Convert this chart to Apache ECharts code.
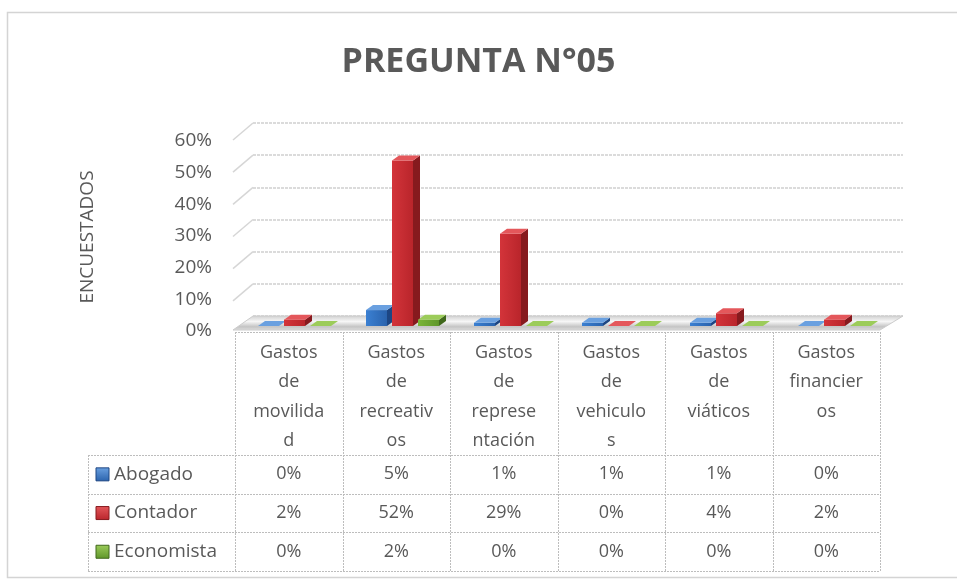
<!DOCTYPE html>
<html>
<head>
<meta charset="utf-8">
<script src="https://cdn.jsdelivr.net/npm/echarts@6/dist/echarts.min.js"></script>
<style>html,body{margin:0;padding:0;background:#fff;}#c{width:957px;height:581px;}</style>
</head>
<body>
<div id="c"></div>
<script>
// ---- data ----
var categories = ['Gastos de movilidad', 'Gastos de recreativos', 'Gastos de representación', 'Gastos de vehiculos', 'Gastos de viáticos', 'Gastos financieros'];
var categoryLabels = ['Gastos\nde\nmovilida\nd', 'Gastos\nde\nrecreativ\nos', 'Gastos\nde\nreprese\nntación', 'Gastos\nde\nvehiculo\ns', 'Gastos\nde\nviáticos', 'Gastos\nfinancier\nos'];
var seriesNames = ['Abogado', 'Contador', 'Economista'];
var abogado = [0, 5, 1, 1, 1, 0];
var contador = [2, 52, 29, 0, 4, 2];
var economista = [0, 2, 0, 0, 0, 0];
var yTicks = [0, 10, 20, 30, 40, 50, 60];

// ---- styling ----
var FONT = '"Open Sans", "Noto Sans", sans-serif';
var TXT = '#595959';
var palettes = [
  {front: ['#3b80d2', '#2a63ad'], side: '#1d4683', top: '#6aa0e0'},
  {front: ['#d3343a', '#b9252b'], side: '#861a1e', top: '#e4575b'},
  {front: ['#7ab537', '#5f962a'], side: '#40681c', top: '#9ccc5a'}
];
var allSeries = [abogado, contador, economista];

var chart = echarts.init(document.getElementById('c'), null, {renderer: 'canvas'});

var SLOT = 26, W = 21, DX = 7, DY = -5;
function barRenderer(sIdx) {
  var pal = palettes[sIdx];
  return function (params, api) {
    var ci = api.value(0), v = api.value(1);
    var b = api.coord([ci, 0]), t = api.coord([ci, v]);
    var cx = b[0] + (sIdx - 1) * SLOT;
    var x0 = cx - 14, x1 = x0 + W;
    var yb = b[1], yt = t[1];
    return {
      type: 'group',
      children: [
        {type: 'polygon', shape: {points: [[x1, yt], [x1 + DX, yt + DY], [x1 + DX, yb + DY], [x1, yb]]}, style: {fill: pal.side}},
        {type: 'rect', shape: {x: x0, y: yt, width: W, height: Math.max(yb - yt, 0)},
          style: {fill: new echarts.graphic.LinearGradient(0, 0, 1, 0, [{offset: 0, color: pal.front[0]}, {offset: 1, color: pal.front[1]}])}},
        {type: 'polygon', shape: {points: [[x0, yt], [x0 + DX, yt + DY], [x1 + DX, yt + DY], [x1, yt]]}, style: {fill: pal.top}}
      ]
    };
  };
}

var series = [];
// floor
series.push({
  type: 'custom', xAxisIndex: 0, yAxisIndex: 0, z: 1, silent: true,
  data: [[0, 0]],
  renderItem: function (params, api) {
    var bl = api.coord([0, 0]), br = api.coord([1, 0]);
    return {
      type: 'polygon',
      shape: {points: [bl, br, [br[0] - 23, br[1] + 14], [bl[0] - 20, bl[1] + 14]]},
      style: {
        fill: new echarts.graphic.LinearGradient(0, 0, 0, 1, [
          {offset: 0, color: '#cfcfcf'}, {offset: 0.4, color: '#f6f6f6'}, {offset: 0.75, color: '#c4c4c4'}, {offset: 1, color: '#e0e0e0'}]),
        stroke: '#cccccc', lineWidth: 1
      }
    };
  }
});
// diagonal side lines of back wall
series.push({
  type: 'custom', xAxisIndex: 0, yAxisIndex: 0, z: 2, silent: true,
  data: yTicks.slice(1).map(function (v) { return [0, v]; }),
  renderItem: function (params, api) {
    var p = api.coord([0, api.value(1)]);
    return {type: 'line', shape: {x1: p[0] - 20, y1: p[1] + 17, x2: p[0], y2: p[1]}, style: {stroke: '#d6d6d6', lineWidth: 1.5}};
  }
});
allSeries.forEach(function (vals, s) {
  series.push({
    name: seriesNames[s], type: 'custom', xAxisIndex: 1, yAxisIndex: 1, z: 5 + s,
    data: vals.map(function (v, i) { return [i, v]; }),
    encode: {x: 0, y: 1},
    renderItem: barRenderer(s)
  });
});

// ---- data table (graphic) ----
var graphics = [];
graphics.push({type: 'rect', shape: {x: 7.5, y: 12.5, width: 1000, height: 565}, style: {fill: 'none', stroke: '#d4d4d4', lineWidth: 1.5}, z: 0});
graphics.push({type: 'text', x: 88, y: 237, rotation: Math.PI / 2, style: {text: 'ENCUESTADOS', font: '19px ' + FONT, fill: TXT, align: 'center', verticalAlign: 'middle'}});

var TL = 235, CW = 107.5, NC = categories.length, TR = TL + CW * NC;
var HT = 332, HB = 455, RH = 38.7, LL = 88;
var dash = {stroke: '#bdbdbd', lineWidth: 1, lineDash: [2, 1]};
function line(x1, y1, x2, y2) { graphics.push({type: 'line', shape: {x1: x1, y1: y1, x2: x2, y2: y2}, style: dash, silent: true}); }
line(TL, HT + 0.5, TR, HT + 0.5);
for (var r = 0; r <= seriesNames.length; r++) line(LL, Math.round(HB + r * RH) + 0.5, TR, Math.round(HB + r * RH) + 0.5);
line(LL + 0.5, HB, LL + 0.5, HB + RH * seriesNames.length);
for (var c = 0; c <= NC; c++) line(Math.round(TL + c * CW) + 0.5, HT, Math.round(TL + c * CW) + 0.5, HB + RH * seriesNames.length);
categoryLabels.forEach(function (lab, i) {
  graphics.push({type: 'text', x: TL + CW * (i + 0.5), y: HT + 6, style: {text: lab, font: '18px ' + FONT, fill: TXT, align: 'center', verticalAlign: 'top', lineHeight: 29.5}});
});
seriesNames.forEach(function (nm, s) {
  var yc = HB + RH * (s + 0.5);
  var pal = palettes[s];
  graphics.push({type: 'rect', shape: {x: 96, y: yc - 6.5, width: 13, height: 13},
    style: {fill: new echarts.graphic.LinearGradient(0, 0, 0, 1, [{offset: 0, color: pal.top}, {offset: 1, color: pal.front[1]}]), stroke: pal.side, lineWidth: 1}});
  graphics.push({type: 'text', x: 114, y: yc, style: {text: nm, font: '19px ' + FONT, fill: TXT, align: 'left', verticalAlign: 'middle'}});
  allSeries[s].forEach(function (v, i) {
    graphics.push({type: 'text', x: TL + CW * (i + 0.5), y: yc, style: {text: v + '%', font: '18px ' + FONT, fill: TXT, align: 'center', verticalAlign: 'middle'}});
  });
});

chart.setOption({
  animation: false,
  backgroundColor: '#ffffff',
  title: {text: 'PREGUNTA N°05', left: 'center', top: 40, textStyle: {fontFamily: FONT, fontSize: 34, fontWeight: 'bold', color: TXT}},
  grid: [
    {left: 253, top: 123, width: 650, height: 193},
    {left: 244, top: 135, width: 648, height: 191},
    {left: 215, top: 141, width: 10, height: 190}
  ],
  xAxis: [
    {type: 'value', gridIndex: 0, min: 0, max: 1, show: false},
    {type: 'category', gridIndex: 1, data: categories, show: false},
    {type: 'value', gridIndex: 2, min: 0, max: 1, show: false}
  ],
  yAxis: [
    {type: 'value', gridIndex: 0, min: 0, max: 60, interval: 10, axisLabel: {show: false}, axisLine: {show: false}, axisTick: {show: false},
      splitLine: {lineStyle: {color: '#cfcfcf', type: [3, 1], width: 1.5}}},
    {type: 'value', gridIndex: 1, min: 0, max: 60, interval: 10, show: false, splitLine: {show: false}},
    {type: 'value', gridIndex: 2, min: 0, max: 60, interval: 10, axisLine: {show: false}, axisTick: {show: false}, splitLine: {show: false},
      axisLabel: {formatter: '{value}%', margin: 3, fontFamily: FONT, fontSize: 19, color: TXT}}
  ],
  series: series,
  graphic: graphics
});
</script>
</body>
</html>
